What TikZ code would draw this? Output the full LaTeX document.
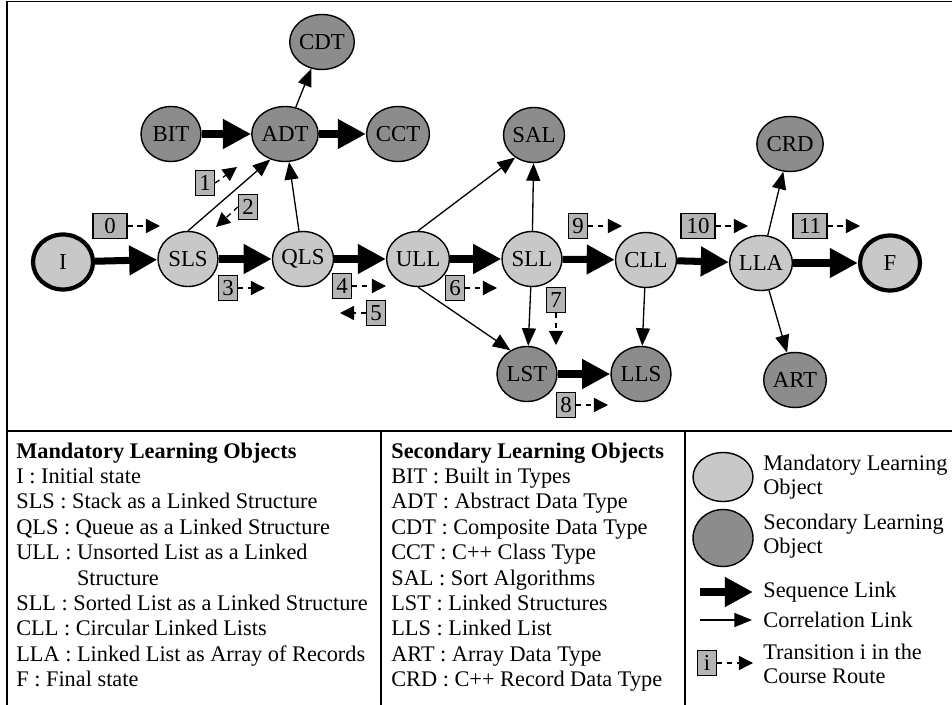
\documentclass[tikz,border=0pt]{standalone}
\usepackage{fontspec}
\setmainfont{Liberation Serif}
\usetikzlibrary{arrows.meta,shapes.geometric}
\definecolor{MandFill}{HTML}{C8C8C8}
\definecolor{SecFill}{HTML}{8C8C8C}
\definecolor{BoxFill}{HTML}{B4B4B4}

\begin{document}
\begin{tikzpicture}[x=0.02cm,y=-0.02cm,every node/.style={font=\fontsize{13}{15}\selectfont},lo/.style={ellipse,draw,line width=0.8pt,minimum width=1.2cm,minimum height=1.1cm,inner sep=0pt},mandatory/.style={lo,fill=MandFill},secondary/.style={lo,fill=SecFill},endstate/.style={mandatory,line width=2.4pt},seqlink/.style={-{Triangle[length=16pt,width=16pt]},line width=4pt},corrlink/.style={-{Triangle[length=10pt,width=8pt]},line width=0.75pt},translink/.style={-{Triangle[length=8pt,width=8pt]},line width=0.75pt,dash pattern=on 3pt off 2.5pt},tbox/.style={draw,fill=BoxFill,line width=0.8pt,minimum width=0.38cm,minimum height=0.5cm,inner sep=1pt},wide/.style={minimum width=0.68cm},legtext/.style={anchor=base west,inner sep=0pt,font=\fontsize{12.7}{14}\selectfont}]
\useasboundingbox (0,0) rectangle (952,705);
\newcommand{\transit}[6][]{\node[tbox,#1](#2) at (#3){#4};\coordinate (#2e) at (#5);\draw[translink](#2.#6)--(#2e);}
% frame
\draw[line width=0.9pt] (7,705)--(7,1.5)--(952,1.5);
\draw[line width=0.9pt] (7,431)--(952,431);
\draw[line width=0.9pt] (381,431)--(381,705) (685,431)--(685,705);
% course route
\node[endstate](I) at (63,262){I};
\node[mandatory](SLS) at (188,259){SLS};
\node[mandatory](QLS) at (303,259){QLS};
\node[mandatory](ULL) at (418,259){ULL};
\node[mandatory](SLL) at (532,259){SLL};
\node[mandatory](CLL) at (646,260){CLL};
\node[mandatory](LLA) at (761,263){LLA};
\node[endstate](F) at (890,263){F};
\node[secondary](BIT) at (171,134){BIT};
\node[secondary](ADT) at (285,134){ADT};
\node[secondary](CCT) at (398,134){CCT};
\node[secondary](CDT) at (322,42){CDT};
\node[secondary](SAL) at (534,135){SAL};
\node[secondary](CRD) at (790,144){CRD};
\node[secondary](LST) at (527,374){LST};
\node[secondary](LLS) at (641,374){LLS};
\node[secondary](ART) at (795,380){ART};
\foreach \a/\b in {I/SLS,SLS/QLS,QLS/ULL,ULL/SLL,SLL/CLL,CLL/LLA,LLA/F,BIT/ADT,ADT/CCT,LST/LLS}
  \draw[seqlink](\a)--(\b);
\foreach \a/\b in {ADT/CDT,QLS/ADT,SLL/SAL,SLL/LST,CLL/LLS,LLA/CRD,LLA/ART}
  \draw[corrlink](\a)--(\b);
\draw[corrlink](SLS.north)--(ADT.240);
\draw[corrlink](ULL.north)--(SAL.230);
\draw[corrlink](ULL.south)--(LST.125);
% transitions
\transit[wide]{t0}{110,226}{0}{160,226}{east}
\transit{t1}{205,183}{1}{237,167}{east}
\transit{t2}{248,207}{2}{216,227}{west}
\transit{t3}{228,288}{3}{265,288}{east}
\transit{t4}{342,286}{4}{386,286}{east}
\transit{t5}{376,313}{5}{340,313}{west}
\transit{t6}{455,288}{6}{497,288}{east}
\transit{t7}{556,300}{7}{556,345}{south}
\transit{t8}{566,405}{8}{608,405}{east}
\transit{t9}{578,226}{9}{622,226}{east}
\transit[wide]{t10}{698,226}{10}{748,226}{east}
\transit[wide]{t11}{810,226}{11}{860,226}{east}
% legend
\foreach \t [count=\i from 0] in {{\bfseries Mandatory Learning Objects},I : Initial state,SLS : Stack as a Linked Structure,QLS : Queue as a Linked Structure,ULL : Unsorted List as a Linked,\phantom{ULL : }Structure,SLL : Sorted List as a Linked Structure,CLL : Circular Linked Lists,LLA : Linked List as Array of Records,F : Final state}
  \node[legtext](ml\i) at (16,458+25.4*\i){\t};
\foreach \t [count=\i from 0] in {{\bfseries Secondary Learning Objects},BIT : Built in Types,ADT : Abstract Data Type,CDT : Composite Data Type,CCT : C++ Class Type,SAL : Sort Algorithms,LST : Linked Structures,LLS : Linked List,ART : Array Data Type,CRD : C++ Record Data Type}
  \node[legtext](sl\i) at (391,458+25.4*\i){\t};
\node[mandatory,minimum height=0.98cm](lgM) at (723,477){};
\node[secondary,minimum height=1.14cm](lgS) at (723,538){};
\coordinate (lgSa) at (700,592);
\coordinate (lgSb) at (753,592);
\draw[seqlink](lgSa)--(lgSb);
\coordinate (lgCa) at (700,620);
\coordinate (lgCb) at (752,620);
\draw[corrlink](lgCa)--(lgCb);
\transit{lgT}{707,663}{i}{753,663}{east}
\node[legtext,anchor=west,align=left](lgMt) at (763,477){Mandatory Learning\\Object};
\node[legtext,anchor=west,align=left](lgSt) at (763,536){Secondary Learning\\Object};
\node[legtext,anchor=west](lgSqt) at (763,592){Sequence Link};
\node[legtext,anchor=west](lgCt) at (763,620){Correlation Link};
\node[legtext,anchor=west,align=left](lgTt) at (763,664){Transition i in the\\Course Route};
\end{tikzpicture}
\end{document}
